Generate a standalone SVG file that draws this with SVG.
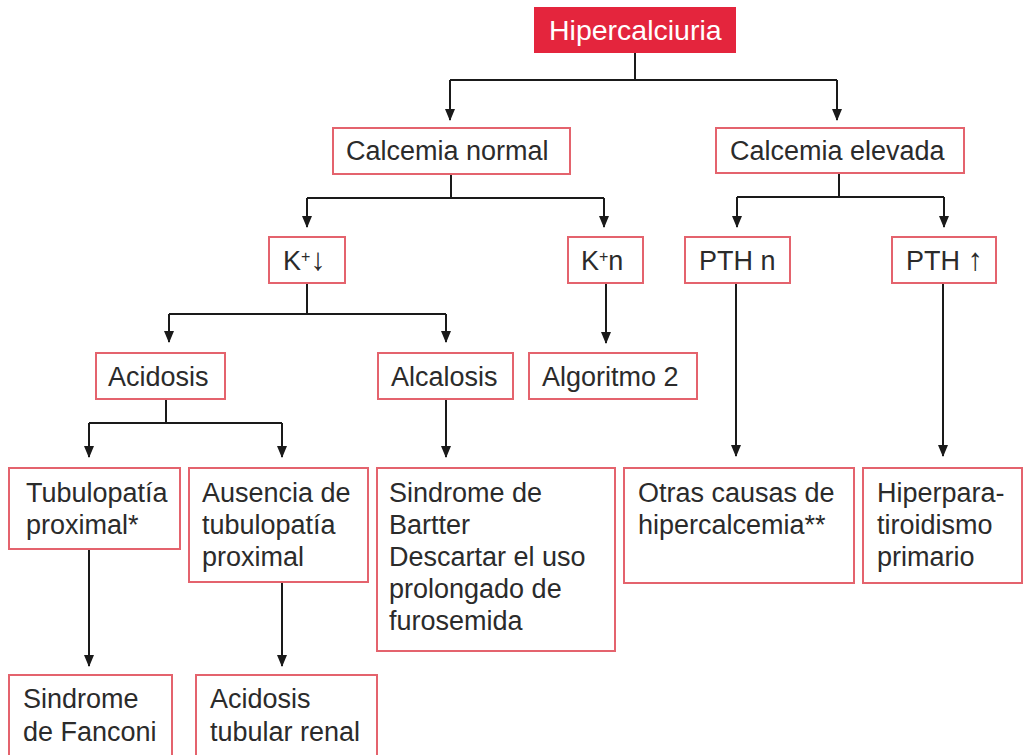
<svg xmlns="http://www.w3.org/2000/svg" width="1025" height="755" viewBox="0 0 1025 755">
<style>
.box{fill:#fff;stroke:#e4636d;stroke-width:2}
.t{font-family:"Liberation Sans",Arial,sans-serif;font-size:27px;fill:#2b2b2b}
.w{fill:#fff;font-size:28.5px}
.sup{font-size:16px}
.arr{font-size:31px}
.c{fill:none;stroke:#1a1a1a;stroke-width:2}
.a{marker-end:url(#ah)}
</style>
<defs>
<marker id="ah" markerUnits="userSpaceOnUse" viewBox="0 0 12 10" refX="11" refY="5" markerWidth="12" markerHeight="10" orient="auto">
<path d="M0,0 L12,5 L0,10 z" fill="#1a1a1a"/>
</marker>
</defs>
<rect width="1025" height="755" fill="#fff"/>
<g id="connectors">
<path class="c" d="M635,53 V80 M450,80 H837"/>
<path class="c a" d="M450,80 V120"/>
<path class="c a" d="M837,80 V120"/>
<path class="c" d="M451,174 V198 M307,198 H604"/>
<path class="c a" d="M307,198 V227"/>
<path class="c a" d="M604,198 V227"/>
<path class="c" d="M839,173 V197 M737,197 H944"/>
<path class="c a" d="M737,197 V227"/>
<path class="c a" d="M944,197 V227"/>
<path class="c" d="M307,283 V314 M169,314 H446"/>
<path class="c a" d="M169,314 V342"/>
<path class="c a" d="M446,314 V342"/>
<path class="c a" d="M606,283 V343"/>
<path class="c" d="M166,399 V423 M89,423 H282"/>
<path class="c a" d="M89,423 V457"/>
<path class="c a" d="M282,423 V457"/>
<path class="c a" d="M446,399 V457"/>
<path class="c a" d="M736,283 V456"/>
<path class="c a" d="M943,283 V456"/>
<path class="c a" d="M89,549 V666"/>
<path class="c a" d="M282,582 V666"/>
</g>
<g id="n-hipercalciuria">
<rect x="534" y="7" width="202" height="46" fill="#e4253d"/>
<text class="t w" x="549" y="40">Hipercalciuria</text>
</g>
<g id="n-calcemia-normal">
<rect class="box" x="333" y="128" width="237" height="46"/>
<text class="t" x="346" y="160">Calcemia normal</text>
</g>
<g id="n-calcemia-elevada">
<rect class="box" x="716" y="128" width="248" height="45"/>
<text class="t" x="730" y="160">Calcemia elevada</text>
</g>
<g id="n-k-low">
<rect class="box" x="269" y="237" width="76" height="46"/>
<text class="t" x="283" y="270">K<tspan class="sup" dy="-8">+</tspan><tspan class="arr" dy="8">↓</tspan></text>
</g>
<g id="n-k-n">
<rect class="box" x="568" y="237" width="75" height="46"/>
<text class="t" x="581" y="270">K<tspan class="sup" dy="-8">+</tspan><tspan dy="8">n</tspan></text>
</g>
<g id="n-pth-n">
<rect class="box" x="685" y="237" width="105" height="46"/>
<text class="t" x="699" y="270">PTH n</text>
</g>
<g id="n-pth-up">
<rect class="box" x="892" y="237" width="104" height="46"/>
<text class="t" x="906" y="270">PTH <tspan class="arr">↑</tspan></text>
</g>
<g id="n-acidosis">
<rect class="box" x="96" y="353" width="129" height="46"/>
<text class="t" x="108" y="386">Acidosis</text>
</g>
<g id="n-alcalosis">
<rect class="box" x="378" y="353" width="135" height="46"/>
<text class="t" x="391" y="386">Alcalosis</text>
</g>
<g id="n-algoritmo2">
<rect class="box" x="529" y="353" width="168" height="46"/>
<text class="t" x="542" y="386">Algoritmo 2</text>
</g>
<g id="n-tubulopatia">
<rect class="box" x="9" y="468" width="171" height="81"/>
<text class="t" x="26" y="502">Tubulopatía<tspan x="26" dy="32">proximal*</tspan></text>
</g>
<g id="n-ausencia">
<rect class="box" x="189" y="468" width="179" height="114"/>
<text class="t" x="202" y="502">Ausencia de<tspan x="202" dy="32">tubulopatía</tspan><tspan x="202" dy="32">proximal</tspan></text>
</g>
<g id="n-bartter">
<rect class="box" x="377" y="468" width="238" height="183"/>
<text class="t" x="389" y="502">Sindrome de<tspan x="389" dy="32">Bartter</tspan><tspan x="389" dy="32">Descartar el uso</tspan><tspan x="389" dy="32">prolongado de</tspan><tspan x="389" dy="32">furosemida</tspan></text>
</g>
<g id="n-otras">
<rect class="box" x="624" y="468" width="230" height="115"/>
<text class="t" x="638" y="502">Otras causas de<tspan x="638" dy="32">hipercalcemia**</tspan></text>
</g>
<g id="n-hiperpara">
<rect class="box" x="863" y="468" width="159" height="115"/>
<text class="t" x="877" y="502">Hiperpara-<tspan x="877" dy="32">tiroidismo</tspan><tspan x="877" dy="32">primario</tspan></text>
</g>
<g id="n-fanconi">
<rect class="box" x="9" y="675" width="163" height="82"/>
<text class="t" x="23" y="708">Sindrome<tspan x="23" dy="33">de Fanconi</tspan></text>
</g>
<g id="n-atr">
<rect class="box" x="196" y="675" width="181" height="82"/>
<text class="t" x="210" y="708">Acidosis<tspan x="210" dy="33">tubular renal</tspan></text>
</g>
</svg>
